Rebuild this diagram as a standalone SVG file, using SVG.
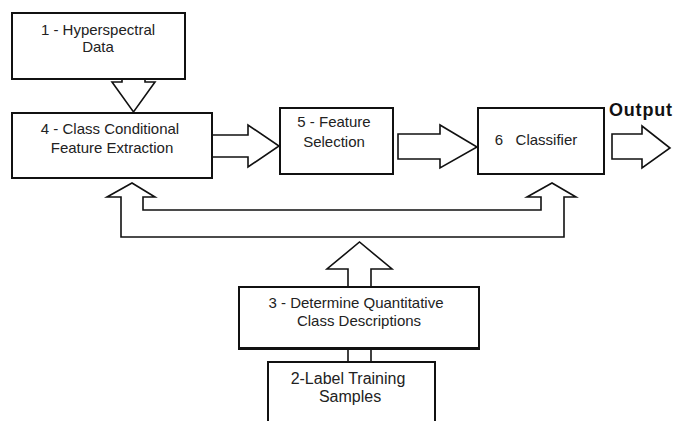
<svg xmlns="http://www.w3.org/2000/svg" width="676" height="421" viewBox="0 0 676 421">
<style>
  .box { fill: #fff; stroke: #111; stroke-width: 2; }
  .arr { fill: #fff; stroke: #111; stroke-width: 1.6; stroke-linejoin: miter; }
  .ln { fill: none; stroke: #111; stroke-width: 1.6; }
  .t { font-family: "Liberation Sans", Arial, sans-serif; font-size: 15px; fill: #222; text-anchor: middle; }
  .out { font-family: "Liberation Sans", Arial, sans-serif; font-size: 18px; font-weight: bold; fill: #111; }
</style>
<rect width="676" height="421" fill="#fff"/>
<g id="connectors">
  <polygon class="arr" points="122,79 145,79 145,82 155,82 133.5,112 112,82 122,82"/>
  <polygon class="arr" points="212,135 248,135 248,125 279,146 248,167 248,157 212,157"/>
  <polygon class="arr" points="398,134 440,134 440,125 477,147 440,168 440,159 398,159"/>
  <polygon class="arr" points="612,134 642,134 642,126 670,148 642,168 642,159 612,159"/>
  <polygon class="arr" points="107,197 132,183 155,197 143,197 143,210 541,210 541,197 527,197 552,183 576,197 564,197 564,237 121,237 121,197"/>
  <polygon class="arr" points="348,287 348,269 327,269 359.5,242 392,269 371,269 371,287"/>
  <line class="ln" x1="348" y1="348" x2="348" y2="362"/>
  <line class="ln" x1="371" y1="348" x2="371" y2="362"/>
</g>
<g id="node1">
  <rect class="box" x="12" y="13" width="173" height="66"/>
  <text class="t" x="98" y="35">1 - Hyperspectral</text>
  <text class="t" x="98" y="52">Data</text>
</g>
<g id="node4">
  <rect class="box" x="12" y="113" width="200" height="65"/>
  <text class="t" x="110" y="134">4 - Class Conditional</text>
  <text class="t" x="112" y="153">Feature Extraction</text>
</g>
<g id="node5">
  <rect class="box" x="280" y="108" width="113" height="66"/>
  <text class="t" x="334" y="127">5 - Feature</text>
  <text class="t" x="334" y="147">Selection</text>
</g>
<g id="node6">
  <rect class="box" x="478" y="108" width="126" height="66"/>
  <text class="t" x="536" y="145" xml:space="preserve">6   Classifier</text>
</g>
<g id="output">
  <text class="out" x="609" y="116" letter-spacing="0.8">Output</text>
</g>
<g id="node3">
  <rect class="box" x="239" y="287" width="240" height="61"/>
  <line x1="238" y1="348.5" x2="480" y2="348.5" stroke="#111" stroke-width="3"/>
  <text class="t" x="356" y="308">3 - Determine Quantitative</text>
  <text class="t" x="359" y="326">Class Descriptions</text>
</g>
<g id="node2">
  <rect class="box" x="268" y="362" width="167" height="70"/>
  <text class="t" x="348" y="384" style="font-size:16px">2-Label Training</text>
  <text class="t" x="350" y="402" style="font-size:16px">Samples</text>
</g>
</svg>
